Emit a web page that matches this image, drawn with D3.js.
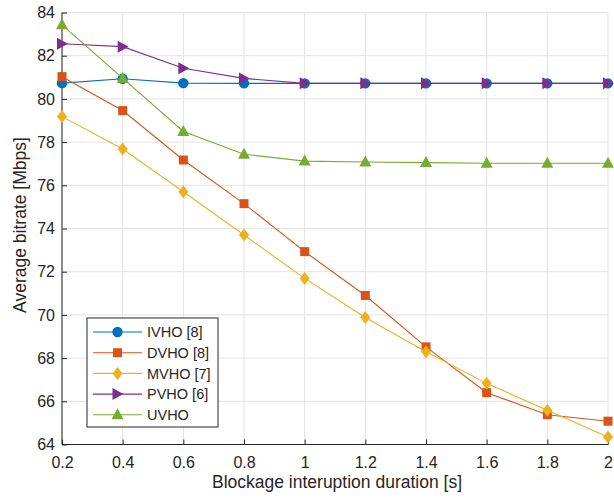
<!DOCTYPE html>
<html><head><meta charset="utf-8">
<script src="https://cdn.jsdelivr.net/npm/d3@7"></script>
<style>body{margin:0;background:#fff}svg{display:block}</style>
</head><body>
<svg id="c" width="614" height="499"></svg>
<script>
const xValues = [0.2,0.4,0.6,0.8,1.0,1.2,1.4,1.6,1.8,2.0];
const ivho = [80.73,80.93,80.73,80.72,80.72,80.72,80.72,80.72,80.72,80.72];
const dvho = [81.03,79.46,77.17,75.15,72.93,70.9,68.52,66.4,65.38,65.08];
const mvho = [79.18,77.68,75.7,73.7,71.69,69.88,68.29,66.83,65.59,64.35];
const pvho = [82.55,82.42,81.42,80.95,80.72,80.72,80.72,80.72,80.72,80.72];
const uvho = [83.43,80.96,78.49,77.44,77.12,77.08,77.05,77.02,77.02,77.02];
const seriesNames = ["IVHO [8]","DVHO [8]","MVHO [7]","PVHO [6]","UVHO"];
const xTicks = [0.2,0.4,0.6,0.8,1,1.2,1.4,1.6,1.8,2];
const yTicks = [64,66,68,70,72,74,76,78,80,82,84];

const colors = ["#0072BD","#D95319","#EDB120","#7E2F8E","#77AC30"];
const shapes = ["circle","square","diamond","tri-right","tri-up"];
const allSeries = [ivho,dvho,mvho,pvho,uvho];

const svg = d3.select("#c");
const L=62, R=608, T=12.5, B=444.5;
const x = d3.scaleLinear().domain([0.2,2]).range([L,R]);
const y = d3.scaleLinear().domain([64,84]).range([B,T]);
const font = "'Liberation Sans', Arial, Helvetica, sans-serif";

// grid
const g = svg.append("g");
g.selectAll(".gx").data(xTicks).enter().append("line")
  .attr("x1",d=>x(d)).attr("x2",d=>x(d)).attr("y1",T).attr("y2",B)
  .attr("stroke","#e3e3e3").attr("stroke-width",1);
g.selectAll(".gy").data(yTicks).enter().append("line")
  .attr("y1",d=>y(d)).attr("y2",d=>y(d)).attr("x1",L).attr("x2",R)
  .attr("stroke","#e3e3e3").attr("stroke-width",1);

// axes
const xAxis = d3.axisBottom(x).tickValues(xTicks).tickSize(-5).tickPadding(10).tickFormat(d3.format("~g"));
const yAxis = d3.axisLeft(y).tickValues(yTicks).tickSize(-5).tickPadding(7).tickFormat(d3.format("d"));
const ax = svg.append("g").attr("transform",`translate(0,${B})`).call(xAxis);
const ay = svg.append("g").attr("transform",`translate(${L},0)`).call(yAxis);
[ax,ay].forEach(a=>{
  a.select(".domain").attr("stroke","#262626").attr("stroke-width",1);
  a.selectAll(".tick line").attr("stroke","#262626");
  a.selectAll("text").attr("fill","#262626").style("font-family",font).style("font-size","16px");
});
ax.selectAll("text").attr("dy",null).attr("y",23);
ax.select(".domain").attr("d",`M${L},0H${R}`);
ay.select(".domain").attr("d",`M0,${T}V${B}`);

function marker(sel, shape, color){
  if(shape==="circle"){
    sel.append("circle").attr("r",5.2).attr("fill",color);
  } else if(shape==="square"){
    sel.append("rect").attr("x",-4.5).attr("y",-4.5).attr("width",9).attr("height",9).attr("fill",color);
  } else if(shape==="diamond"){
    sel.append("path").attr("d","M0,-6.5L5,0L0,6.5L-5,0Z").attr("fill",color);
  } else if(shape==="tri-right"){
    sel.append("path").attr("d","M6,0L-5,-6L-5,6Z").attr("fill",color);
  } else if(shape==="tri-up"){
    sel.append("path").attr("d","M0,-6.5L6,4.5L-6,4.5Z").attr("fill",color);
  }
}

const line = d3.line().x((d,i)=>x(xValues[i])).y(d=>y(d));
allSeries.forEach((s,k)=>{
  const sg = svg.append("g");
  sg.append("path").datum(s).attr("d",line).attr("fill","none")
    .attr("stroke",colors[k]).attr("stroke-width",1.1);
  s.forEach((v,i)=>{
    const m = sg.append("g").attr("transform",`translate(${x(xValues[i])},${y(v)})`);
    marker(m, shapes[k], colors[k]);
  });
});

// legend
const lg = svg.append("g");
lg.append("rect").attr("x",87).attr("y",318).attr("width",131).attr("height",109)
  .attr("fill","#fff").attr("stroke","#262626").attr("stroke-width",1);
seriesNames.forEach((n,k)=>{
  const yy = 332 + k*20.7;
  lg.append("line").attr("x1",93).attr("x2",142).attr("y1",yy).attr("y2",yy)
    .attr("stroke",colors[k]).attr("stroke-width",1.1);
  const m = lg.append("g").attr("transform",`translate(117.5,${yy})`);
  marker(m, shapes[k], colors[k]);
  lg.append("text").attr("x",147).attr("y",yy).attr("dy","0.36em")
    .attr("fill","#262626").style("font-family",font).style("font-size","14.5px").text(n);
});

// labels
svg.append("text").attr("x",337).attr("y",488).attr("text-anchor","middle")
  .attr("fill","#262626").style("font-family",font).style("font-size","17.5px")
  .text("Blockage interuption duration [s]");
svg.append("text").attr("transform",`translate(25.5,225) rotate(-90)`).attr("text-anchor","middle")
  .attr("fill","#262626").style("font-family",font).style("font-size","17.5px")
  .text("Average bitrate [Mbps]");
</script>
</body></html>
